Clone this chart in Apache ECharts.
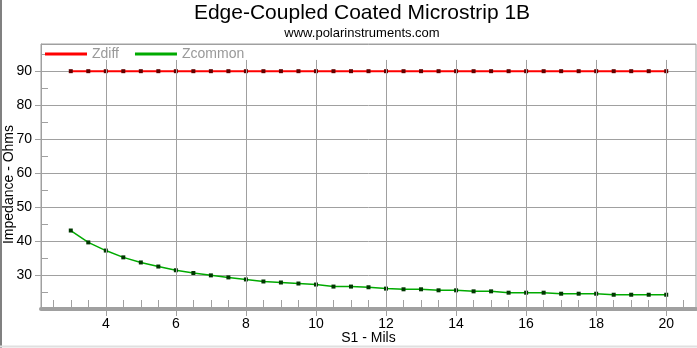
<!DOCTYPE html>
<html><head><meta charset="utf-8">
<script src="https://cdn.jsdelivr.net/npm/echarts@6/dist/echarts.min.js"></script>
<style>html,body{margin:0;padding:0;background:#fff}#c{width:697px;height:348px}</style>
</head><body><div id="c"></div>
<script>
const titleText = 'Edge-Coupled Coated Microstrip 1B';
const subtitleText = 'www.polarinstruments.com';
const xName = 'S1 - Mils';
const yName = 'Impedance - Ohms';
const seriesNames = ['Zdiff', 'Zcommon'];
const s1 = [3, 3.5, 4, 4.5, 5, 5.5, 6, 6.5, 7, 7.5, 8, 8.5, 9, 9.5, 10, 10.5, 11, 11.5, 12, 12.5, 13, 13.5, 14, 14.5, 15, 15.5, 16, 16.5, 17, 17.5, 18, 18.5, 19, 19.5, 20];
const zdiff = [90, 90, 90, 90, 90, 90, 90, 90, 90, 90, 90, 90, 90, 90, 90, 90, 90, 90, 90, 90, 90, 90, 90, 90, 90, 90, 90, 90, 90, 90, 90, 90, 90, 90, 90];
const zcommon = [43.1, 39.6, 37.2, 35.2, 33.7, 32.5, 31.4, 30.6, 29.9, 29.3, 28.7, 28.1, 27.8, 27.5, 27.2, 26.6, 26.6, 26.4, 26.0, 25.8, 25.8, 25.5, 25.5, 25.2, 25.2, 24.8, 24.8, 24.8, 24.5, 24.5, 24.5, 24.2, 24.2, 24.2, 24.2];
const xLabelValues = [4, 6, 8, 10, 12, 14, 16, 18, 20];
const xTickValues = [2.5, 3, 3.5, 4, 4.5, 5, 5.5, 6, 6.5, 7, 7.5, 8, 8.5, 9, 9.5, 10, 10.5, 11, 11.5, 12, 12.5, 13, 13.5, 14, 14.5, 15, 15.5, 16, 16.5, 17, 17.5, 18, 18.5, 19, 19.5, 20, 20.5];

const FONT = '"Liberation Sans", Arial, sans-serif';
const GRAY = '#a0a0a0';
const chart = echarts.init(document.getElementById('c'), null, {renderer: 'canvas'});
const pairs = (xs, ys) => xs.map((x, i) => [x, ys[i]]);
const gridTop = 93.3;

chart.setOption({
  animation: false,
  backgroundColor: '#fff',
  title: {
    text: titleText, subtext: subtitleText, left: 362, textAlign: 'center', top: 0, padding: [3, 0, 0, 0], itemGap: 3,
    textStyle: {fontFamily: FONT, fontSize: 21, fontWeight: 'normal', color: '#000'},
    subtextStyle: {fontFamily: FONT, fontSize: 13, color: '#000'}
  },
  legend: {
    left: 45, top: 47, padding: 0, itemGap: 16, itemWidth: 42, itemHeight: 3, icon: 'rect',
    textStyle: {fontFamily: FONT, fontSize: 14, color: '#999'},
    data: [
      {name: seriesNames[0], itemStyle: {color: '#ff0000'}},
      {name: seriesNames[1], itemStyle: {color: '#00aa00'}}
    ]
  },
  grid: {left: 41, right: 1, top: 44, bottom: 39, show: true, borderColor: GRAY, borderWidth: 1, containLabel: false, outerBoundsMode: 'none'},
  xAxis: [{
    type: 'value', min: 2.15, max: 20.85, position: 'bottom',
    name: xName, nameLocation: 'middle', nameGap: 22, nameMoveOverlap: false,
    nameTextStyle: {fontFamily: FONT, fontSize: 14, color: '#000'},
    axisLine: {show: true, onZero: false, lineStyle: {color: GRAY, width: 4}},
    axisTick: {show: true, inside: true, length: 9, customValues: xTickValues, lineStyle: {color: GRAY, width: 1}},
    axisLabel: {customValues: xLabelValues, fontFamily: FONT, fontSize: 14, color: '#000', margin: 8},
    splitLine: {show: false}
  }, {
    type: 'value', min: 2.15, max: 20.85, position: 'bottom',
    axisLine: {show: false},
    axisTick: {show: true, inside: false, length: 7, customValues: xLabelValues, lineStyle: {color: GRAY, width: 1}},
    axisLabel: {show: false},
    splitLine: {show: false}
  }],
  yAxis: [{
    type: 'value', min: 20, max: 98, interval: 10, position: 'left',
    name: yName, nameLocation: 'middle', nameGap: 25, nameMoveOverlap: false,
    nameTextStyle: {fontFamily: FONT, fontSize: 14, color: '#000', padding: [0, 16, 0, 0]},
    axisLine: {show: true, lineStyle: {color: GRAY, width: 1}},
    axisTick: {show: true, inside: false, length: 6, lineStyle: {color: GRAY, width: 1}},
    axisLabel: {fontFamily: FONT, fontSize: 14, color: '#000', margin: 9, showMinLabel: false, showMaxLabel: false},
    splitLine: {show: true, lineStyle: {color: GRAY, width: 1}}
  }, {
    type: 'value', min: 20, max: 98, interval: 5, position: 'left',
    axisLine: {show: false},
    axisTick: {show: true, inside: true, length: 7, lineStyle: {color: GRAY, width: 1}},
    axisLabel: {show: false},
    splitLine: {show: false}
  }],
  graphic: [
    {type: 'line', shape: {x1: 1, y1: 0, x2: 1, y2: 348}, style: {stroke: '#808080', lineWidth: 2}, silent: true},
    {type: 'line', shape: {x1: 0, y1: 346.5, x2: 697, y2: 346.5}, style: {stroke: '#e0e0e0', lineWidth: 2}, silent: true}
  ],
  series: [{
    name: 'grid', type: 'line', data: [], z: 1, silent: true,
    markLine: {
      silent: true, symbol: 'none', label: {show: false},
      lineStyle: {color: GRAY, width: 1, type: 'solid'},
      data: xLabelValues.map(v => [{coord: [v, 20]}, {coord: [v, gridTop]}])
    }
  }, {
    name: seriesNames[0], type: 'line', z: 4, data: pairs(s1, zdiff),
    symbol: 'rect', symbolSize: 4, showSymbol: true,
    itemStyle: {color: '#600000'}, lineStyle: {color: '#ff0000', width: 2}
  }, {
    name: seriesNames[1], type: 'line', z: 3, data: pairs(s1, zcommon),
    symbol: 'rect', symbolSize: 4, showSymbol: true,
    itemStyle: {color: '#003800'}, lineStyle: {color: '#00aa00', width: 1.5}
  }]
});
</script></body></html>
